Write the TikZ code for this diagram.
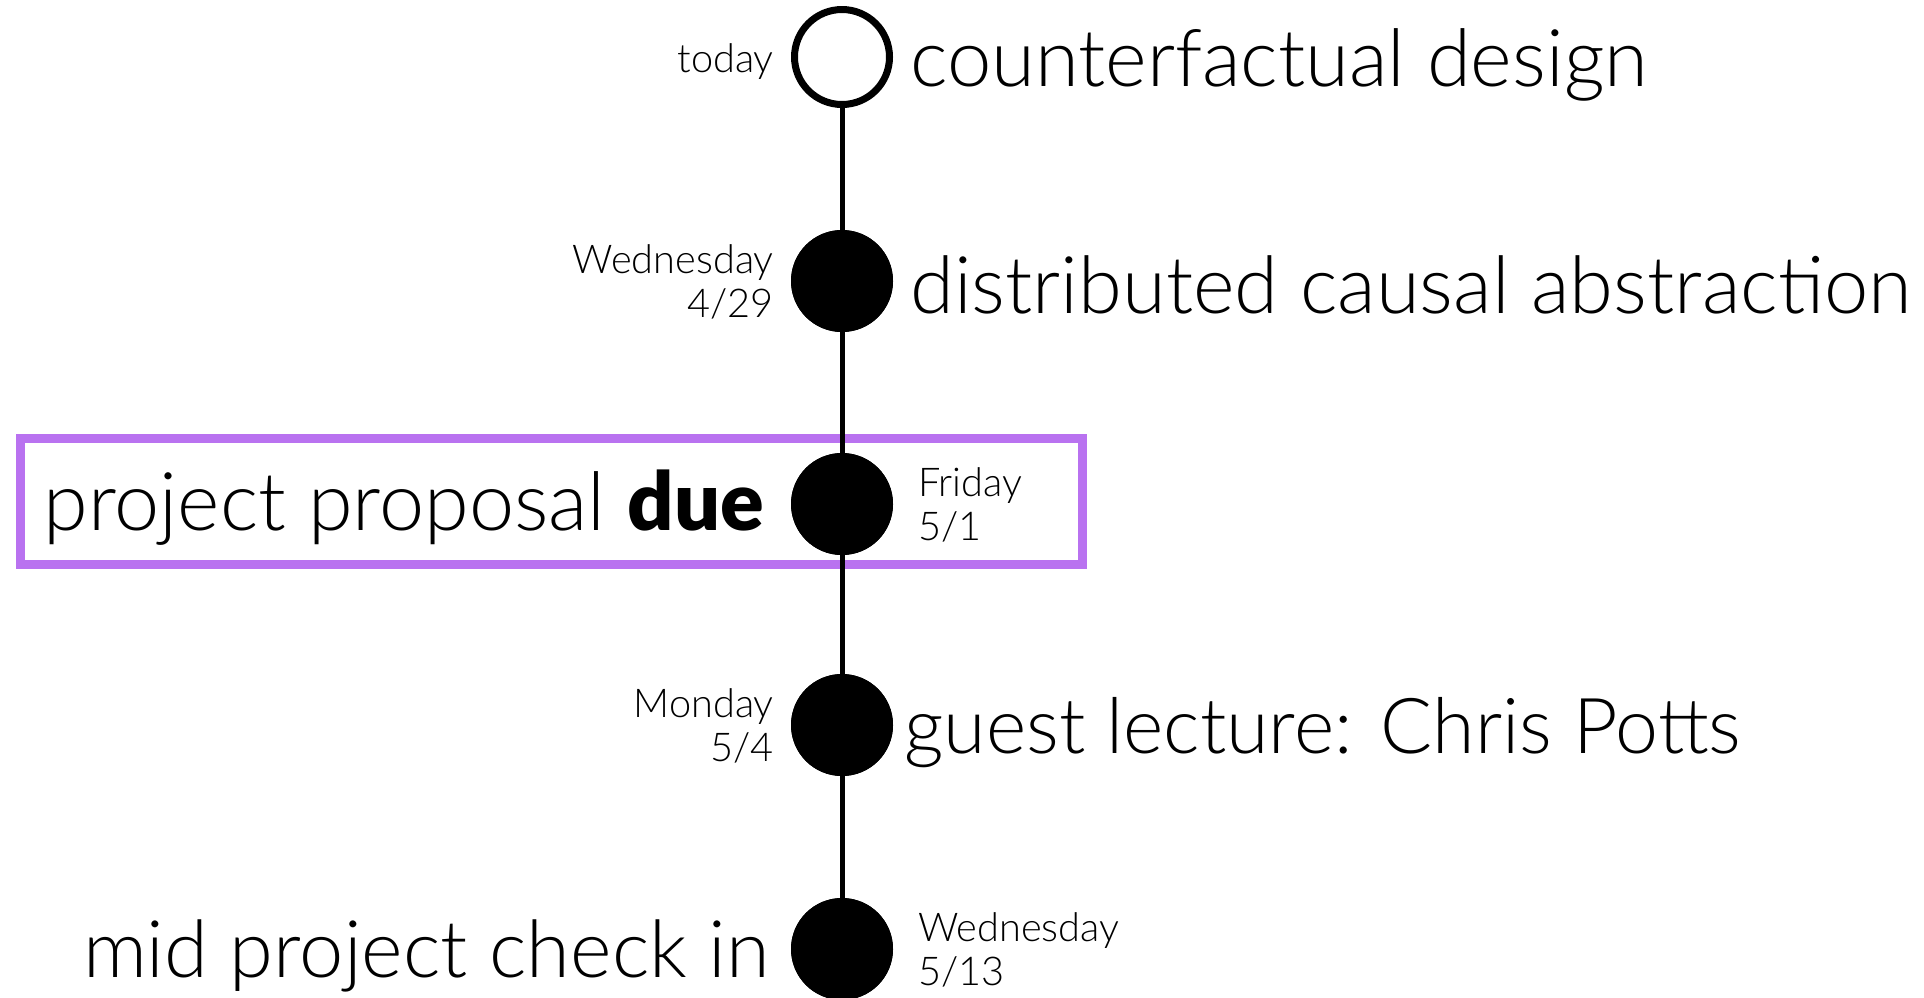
\documentclass[tikz,border=0pt]{standalone}
\usepackage{fontspec}
\setmainfont{Lato}[UprightFont=* Light, BoldFont=* Black]
\definecolor{duepurple}{HTML}{B972F0}
\begin{document}
\begin{tikzpicture}[x=1pt,y=-1pt,
  big/.style={inner sep=0pt, font=\fontsize{#1}{96}\selectfont},
  big/.default=79.5,
  small/.style={inner sep=0pt, font=\fontsize{39.7}{44}\selectfont},
  dot/.style={circle, fill=black, minimum size=102pt, inner sep=0pt},
  ring/.style={circle, draw=black, fill=white, line width=7pt, minimum size=95pt, inner sep=0pt},
  rail/.style={line width=5pt, draw=black},
  highlight/.style={draw=duepurple, line width=9pt, minimum width=1062pt, minimum height=126pt, inner sep=0pt}
]
\useasboundingbox (0,0) rectangle (1924,997);

% highlight frame around the proposal deadline
\node[highlight] (duebox) at (551,501) {};

% timeline stations
\node[ring] (c1) at (842,57) {};
\node[dot]  (c2) at (842,281) {};
\node[dot]  (c3) at (842,504) {};
\node[dot]  (c4) at (842,725) {};
\node[dot]  (c5) at (842,949) {};

% connecting rail
\draw[rail] (c1) -- (c2) -- (c3) -- (c4) -- (c5);
\node[dot] at (c2) {};
\node[dot] at (c3) {};
\node[dot] at (c4) {};
\node[dot] at (c5) {};

% dates
\node[small, anchor=base east] (d1) at (774,72) {today};
\node[small, anchor=base east] (d2) at (774,273) {\begin{tabular}[t]{@{}r@{}}Wednesday\\4/29\end{tabular}};
\node[small, anchor=base west] (d3) at (918,496) {\begin{tabular}[t]{@{}l@{}}Friday\\5/1\end{tabular}};
\node[small, anchor=base east] (d4) at (774,717) {\begin{tabular}[t]{@{}r@{}}Monday\\5/4\end{tabular}};
\node[small, anchor=base west] (d5) at (918,941) {\begin{tabular}[t]{@{}l@{}}Wednesday\\5/13\end{tabular}};

% topics
\node[big=79.6, anchor=base west] (t1) at (910,86) {counterfactual design};
\node[big=79.5, anchor=base west] (t2) at (910,313) {distributed causal abstraction};
\node[big=81, anchor=base east] (t3) at (764,530) {project proposal \textbf{due}};
\node[big=77.1, anchor=base west] (t4) at (904,753) {guest lecture: Chris Potts};
\node[big=79.4, anchor=base east] (t5) at (770,977) {mid project check in};
\end{tikzpicture}
\end{document}
